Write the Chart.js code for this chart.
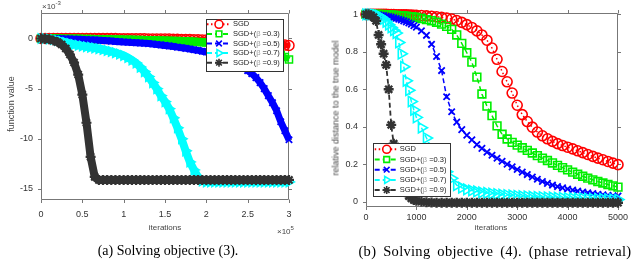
<!DOCTYPE html>
<html>
<head>
<meta charset="utf-8">
<script src="https://cdn.jsdelivr.net/npm/chart.js@4.4.1/dist/chart.umd.min.js"></script>
<style>
  body { margin: 0; background: #fff; }
  #page { position: relative; width: 640px; height: 262px; background: #fff; overflow: hidden; font-family: 'Liberation Sans', Arial, sans-serif; }
  .panel { position: absolute; top: 0; width: 320px; height: 232px; }
  .lbl { position: absolute; font-size: 8px; color: #444; white-space: nowrap; line-height: 1; }
  .mid { transform: translate(-50%, -50%); }
  .ylab { transform: translate(-50%, -50%) rotate(-90deg); font-size: 9px; }
  .lbl sup { font-size: 6px; vertical-align: 4px; }
  .cap { position: absolute; transform: translateX(-50%); font-family: 'Liberation Serif', 'Times New Roman', serif; font-size: 14px; color: #000; white-space: nowrap; }
</style>
</head>
<body>
<div id="page">
  <div class="panel" style="left:0"><canvas id="chartA"></canvas></div>
  <div class="panel" style="left:320px"><canvas id="chartB"></canvas></div>

  <div class="lbl" style="left:42px;top:0px">×10<sup>-3</sup></div>
  <div class="lbl ylab" style="left:11px;top:104px">function value</div>
  <div class="lbl mid" style="left:165px;top:228px">iterations</div>
  <div class="lbl" style="left:277px;top:225px">×10<sup>5</sup></div>

  <div class="lbl ylab" style="left:336px;top:108px">relative distance to the true model</div>
  <div class="lbl mid" style="left:491px;top:228px">iterations</div>

  <div class="cap" style="left:168px;top:243px">(a) Solving objective (3).</div>
  <div class="cap" style="left:495px;top:243px;font-size:14.5px;letter-spacing:0.3px;word-spacing:3px">(b) Solving objective (4). (phase retrieval)</div>
</div>

<script>
// ---- left panel: function value (x in 1e5 iterations, y in 1e-3)
const itersA = [0, 0.05, 0.1, 0.15, 0.2, 0.25, 0.3, 0.35, 0.4, 0.45, 0.5, 0.55, 0.6, 0.65, 0.7, 0.75, 0.8, 0.85, 0.9, 0.95,
    1, 1.05, 1.1, 1.15, 1.2, 1.25, 1.3, 1.35, 1.4, 1.45, 1.5, 1.55, 1.6, 1.65, 1.7, 1.75, 1.8, 1.85, 1.9, 1.95,
    2, 2.05, 2.1, 2.15, 2.2, 2.25, 2.3, 2.35, 2.4, 2.45, 2.5, 2.55, 2.6, 2.65, 2.7, 2.75, 2.8, 2.85, 2.9, 2.95, 3];
const sgdA = [0, 0, 0, 0, 0, 0, 0, 0, 0, 0, 0,
    0, 0, 0, 0, -0.01, -0.01, -0.01, -0.01, -0.02, -0.02,
    -0.02, -0.02, -0.03, -0.03, -0.03, -0.04, -0.04, -0.05, -0.05, -0.06,
    -0.06, -0.07, -0.08, -0.09, -0.1, -0.11, -0.12, -0.13, -0.14, -0.15,
    -0.17, -0.18, -0.2, -0.22, -0.24, -0.26, -0.28, -0.31, -0.34, -0.37,
    -0.4, -0.43, -0.46, -0.49, -0.52, -0.55, -0.58, -0.62, -0.66, -0.7];
const plus3A = [0, 0, 0, -0.01, -0.01, -0.02, -0.02, -0.03, -0.03, -0.04, -0.05,
    -0.05, -0.06, -0.07, -0.07, -0.08, -0.09, -0.1, -0.1, -0.11, -0.12,
    -0.13, -0.14, -0.15, -0.16, -0.17, -0.18, -0.19, -0.2, -0.21, -0.22,
    -0.23, -0.25, -0.26, -0.28, -0.29, -0.31, -0.33, -0.35, -0.37, -0.39,
    -0.42, -0.45, -0.48, -0.52, -0.56, -0.6, -0.65, -0.7, -0.76, -0.82,
    -0.89, -0.97, -1.06, -1.16, -1.27, -1.39, -1.52, -1.66, -1.85, -2.1];
const plus5A = [0, 0, -0.01, -0.01, -0.02, -0.03, -0.04, -0.05, -0.07, -0.08, -0.1,
    -0.12, -0.14, -0.16, -0.18, -0.2, -0.23, -0.26, -0.29, -0.32, -0.35,
    -0.37, -0.4, -0.42, -0.45, -0.48, -0.51, -0.55, -0.6, -0.64, -0.69,
    -0.74, -0.8, -0.86, -0.92, -0.98, -1.05, -1.12, -1.19, -1.27, -1.35,
    -1.45, -1.55, -1.65, -1.75, -1.9, -2.05, -2.25, -2.5, -2.8, -3.2,
    -3.5, -3.9, -4.4, -5.0, -5.7, -6.4, -7.2, -8.3, -9.2, -10.1];
const plus7A = [0, 0, -0.05, -0.1, -0.2, -0.3, -0.4, -0.5, -0.6, -0.68, -0.75,
    -0.82, -0.88, -0.95, -1.02, -1.1, -1.2, -1.3, -1.42, -1.55, -1.7,
    -1.9, -2.15, -2.45, -2.85, -3.3, -3.8, -4.4, -5.0, -5.7, -6.3,
    -7.0, -7.9, -8.9, -10.0, -11.2, -12.3, -13.1, -13.8, -14.2, -14.3,
    -14.3, -14.3, -14.3, -14.3, -14.3, -14.3, -14.3, -14.3, -14.3, -14.3,
    -14.3, -14.3, -14.3, -14.3, -14.3, -14.3, -14.3, -14.3, -14.3, -14.3];
const plus9A = [0, -0.02, -0.08, -0.2, -0.35, -0.6, -1.0, -1.6, -2.4, -3.6, -5.6,
    -8.4, -11.8, -13.8, -14.1, -14.1, -14.1, -14.1, -14.1, -14.1, -14.1,
    -14.1, -14.1, -14.1, -14.1, -14.1, -14.1, -14.1, -14.1, -14.1, -14.1,
    -14.1, -14.1, -14.1, -14.1, -14.1, -14.1, -14.1, -14.1, -14.1, -14.1,
    -14.1, -14.1, -14.1, -14.1, -14.1, -14.1, -14.1, -14.1, -14.1, -14.1,
    -14.1, -14.1, -14.1, -14.1, -14.1, -14.1, -14.1, -14.1, -14.1, -14.1];
const xTicksA = [0, 0.5, 1, 1.5, 2, 2.5, 3];
const yTicksA = [-15, -10, -5, 0];

// ---- right panel: relative distance to the true model
const itersB = [0, 50, 100, 150, 200, 250, 300, 350, 400, 450, 500, 550, 600, 650, 700, 750, 800, 850, 900, 950, 1000,
    1100, 1200, 1300, 1400, 1500, 1600, 1700, 1800, 1900, 2000, 2100, 2200, 2300, 2400, 2500, 2600, 2700, 2800, 2900, 3000,
    3100, 3200, 3300, 3400, 3500, 3600, 3700, 3800, 3900, 4000, 4100, 4200, 4300, 4400, 4500, 4600, 4700, 4800, 4900, 5000];
const sgdB = [1, 1, 1, 1, 1, 1, 1, 1, 1, 0.999, 0.999, 0.999, 0.998, 0.998, 0.998, 0.997, 0.997, 0.996, 0.996, 0.995, 0.995,
    0.994, 0.992, 0.99, 0.987, 0.984, 0.98, 0.975, 0.967, 0.957, 0.945,
    0.93, 0.912, 0.89, 0.862, 0.82, 0.76, 0.695, 0.64, 0.58, 0.515,
    0.465, 0.428, 0.398, 0.372, 0.352, 0.336, 0.322, 0.31, 0.3, 0.291,
    0.282, 0.272, 0.262, 0.252, 0.242, 0.233, 0.224, 0.215, 0.206, 0.198];
const plus3B = [1, 1, 1, 1, 1, 0.999, 0.999, 0.998, 0.998, 0.997, 0.996, 0.995, 0.994, 0.993, 0.992, 0.991, 0.99, 0.988, 0.987, 0.985, 0.983,
    0.978, 0.972, 0.966, 0.958, 0.948, 0.936, 0.92, 0.89, 0.845, 0.795,
    0.745, 0.665, 0.575, 0.51, 0.46, 0.405, 0.36, 0.335, 0.317, 0.302,
    0.288, 0.274, 0.26, 0.246, 0.233, 0.22, 0.207, 0.194, 0.182, 0.17,
    0.158, 0.147, 0.136, 0.126, 0.117, 0.108, 0.1, 0.092, 0.085, 0.078];
const plus5B = [1, 1, 1, 0.999, 0.998, 0.997, 0.995, 0.993, 0.99, 0.988, 0.985, 0.982, 0.978, 0.974, 0.97, 0.965, 0.96, 0.954, 0.948, 0.94, 0.932,
    0.912, 0.888, 0.84, 0.775, 0.7, 0.56, 0.48, 0.425, 0.385, 0.355,
    0.33, 0.305, 0.285, 0.265, 0.248, 0.232, 0.216, 0.2, 0.186, 0.172,
    0.158, 0.145, 0.132, 0.12, 0.108, 0.098, 0.089, 0.081, 0.074, 0.068,
    0.062, 0.057, 0.052, 0.048, 0.044, 0.04, 0.037, 0.034, 0.032, 0.03];
const plus7B = [1, 1, 1, 0.999, 0.997, 0.993, 0.985, 0.975, 0.96, 0.945, 0.93, 0.915, 0.9, 0.85, 0.79, 0.72, 0.645, 0.595, 0.535, 0.49, 0.45,
    0.395, 0.34, 0.285, 0.24, 0.198, 0.16, 0.125, 0.088, 0.075, 0.066,
    0.06, 0.055, 0.05, 0.047, 0.044, 0.041, 0.038, 0.036, 0.034, 0.032,
    0.03, 0.029, 0.027, 0.026, 0.025, 0.024, 0.023, 0.022, 0.021, 0.02,
    0.019, 0.018, 0.018, 0.017, 0.016, 0.015, 0.015, 0.014, 0.013, 0.012];
const plus9B = [1, 1, 0.995, 0.985, 0.965, 0.89, 0.84, 0.79, 0.73, 0.6, 0.41, 0.31, 0.23, 0.17, 0.12, 0.08, 0.05, 0.03, 0.018, 0.01, 0.005,
    0.001, -0.002, -0.004, -0.005, -0.005, -0.005, -0.005, -0.005, -0.005, -0.005,
    -0.005, -0.005, -0.005, -0.005, -0.005, -0.005, -0.005, -0.005, -0.005, -0.005,
    -0.005, -0.005, -0.005, -0.005, -0.005, -0.005, -0.005, -0.005, -0.005, -0.005,
    -0.005, -0.005, -0.005, -0.005, -0.005, -0.005, -0.005, -0.005, -0.005, -0.005];
const xTicksB = [0, 1000, 2000, 3000, 4000, 5000];
const yTicksB = [0, 0.2, 0.4, 0.6, 0.8, 1];

const seriesNames = ['SGD', 'SGD+(β =0.3)', 'SGD+(β =0.5)', 'SGD+(β =0.7)', 'SGD+(β =0.9)'];

// marker / line look per series (matlab-ish)
const styles = [
    { color: '#ff0000', point: 'circle', rot: 0, dash: [1.5, 2.5] },
    { color: '#00ee00', point: 'rect', rot: 0, dash: [5, 3] },
    { color: '#0000ff', point: 'crossRot', rot: 0, dash: [5, 3] },
    { color: '#00ffff', point: 'triangle', rot: 90, dash: [5, 3] },
    { color: '#333333', point: 'star', rot: 0, dash: [5, 3] }
];

Chart.defaults.font.family = "'Liberation Sans', Arial, sans-serif";
Chart.defaults.font.size = 9;
Chart.defaults.color = '#333';

// axes box with outward ticks on all four sides, under the data
const boxPlugin = {
    id: 'matBox',
    beforeDatasetsDraw(chart) {
        const { ctx, chartArea: a, scales } = chart;
        const L = Math.round(a.left) + 0.5, R = Math.round(a.right) - 0.5;
        const T = Math.round(a.top) + 0.5, B = Math.round(a.bottom) - 0.5;
        ctx.save();
        ctx.lineWidth = 1;
        ctx.strokeStyle = '#777';
        ctx.beginPath();
        ctx.moveTo(L, T); ctx.lineTo(R, T); ctx.lineTo(R, B); ctx.lineTo(L, B); ctx.closePath();
        scales.x.ticks.forEach(t => {
            const px = Math.round(scales.x.getPixelForValue(t.value)) + 0.5;
            ctx.moveTo(px, B); ctx.lineTo(px, B + 3.5);
            ctx.moveTo(px, T); ctx.lineTo(px, T - 3.5);
        });
        scales.y.ticks.forEach(t => {
            const py = Math.round(scales.y.getPixelForValue(t.value)) + 0.5;
            ctx.moveTo(L, py); ctx.lineTo(L - 3.5, py);
            ctx.moveTo(R, py); ctx.lineTo(R + 3.5, py);
        });
        ctx.stroke();
        ctx.restore();
    }
};

// boxed legend like matlab: line - marker - line, then text
const legendPlugin = {
    id: 'boxLegend',
    afterDatasetsDraw(chart, args, o) {
        const ctx = chart.ctx;
        ctx.save();
        ctx.fillStyle = '#fff';
        ctx.fillRect(o.x, o.y, o.w, o.h);
        ctx.strokeStyle = '#333';
        ctx.lineWidth = 1;
        ctx.strokeRect(Math.round(o.x) + 0.5, Math.round(o.y) + 0.5, Math.round(o.w), Math.round(o.h));
        ctx.font = "7.5px 'Liberation Sans', Arial, sans-serif";
        ctx.textBaseline = 'middle';
        chart.data.datasets.forEach((ds, i) => {
            const cy = o.y + o.rowTop + i * o.rowGap;
            ctx.strokeStyle = ds.borderColor;
            ctx.lineWidth = 2;
            ctx.setLineDash(ds.legendDash);
            ctx.beginPath();
            ctx.moveTo(o.x + o.lineX0, cy);
            ctx.lineTo(o.x + o.lineX1, cy);
            ctx.stroke();
            ctx.setLineDash([]);
            ctx.fillStyle = '#fff';
            ctx.lineWidth = 1.6;
            Chart.helpers.drawPoint(ctx, {
                pointStyle: ds.pointStyle, rotation: ds.pointRotation, radius: o.markR, borderWidth: 1.6
            }, o.x + o.markX, cy);
            // text, beta a bit lighter
            let tx = o.x + o.textX;
            ds.label.split(/(β)/).forEach(part => {
                ctx.fillStyle = part === 'β' ? '#999' : '#222';
                ctx.fillText(part, tx, cy);
                tx += ctx.measureText(part).width;
            });
        });
        ctx.restore();
    }
};

function makeSets(xs, series, look) {
    return series.map((ys, i) => ({
        label: seriesNames[i],
        data: xs.map((x, k) => ({ x: x, y: ys[k] })),
        borderColor: styles[i].color,
        backgroundColor: 'rgba(0,0,0,0)',
        pointBorderColor: styles[i].color,
        pointBackgroundColor: 'rgba(0,0,0,0)',
        pointStyle: styles[i].point,
        pointRotation: styles[i].rot,
        pointRadius: look.radius[i],
        pointBorderWidth: look.pointWidth[i],
        borderWidth: look.lineWidth[i],
        borderDash: look.dashed ? styles[i].dash : [],
        legendDash: styles[i].dash,
        order: 5 - i,
        clip: false,
        tension: 0,
        fill: false
    }));
}

function makeChart(id, xs, series, c) {
    return new Chart(document.getElementById(id), {
        type: 'line',
        data: { datasets: makeSets(xs, series, c.look) },
        options: {
            responsive: true,
            maintainAspectRatio: false,
            animation: false,
            events: [],
            layout: { padding: c.pad },
            plugins: {
                legend: { display: false },
                tooltip: { enabled: false },
                boxLegend: c.legend
            },
            scales: {
                x: {
                    type: 'linear',
                    min: c.xMin, max: c.xMax,
                    afterFit: s => { s.height = c.xh; },
                    afterBuildTicks: s => { s.ticks = c.xTicks.map(v => ({ value: v })); },
                    grid: { display: false, drawTicks: false },
                    border: { display: false },
                    ticks: { padding: c.xPad, autoSkip: false, maxRotation: 0, callback: v => String(v) }
                },
                y: {
                    type: 'linear',
                    min: c.yMin, max: c.yMax,
                    afterFit: s => { s.width = c.yw; },
                    afterBuildTicks: s => { s.ticks = c.yTicks.map(v => ({ value: v })); },
                    grid: { display: false, drawTicks: false },
                    border: { display: false },
                    ticks: { padding: c.yPad, autoSkip: false, callback: v => String(v) }
                }
            }
        },
        plugins: [boxPlugin, legendPlugin]
    });
}

makeChart('chartA', itersA, [sgdA, plus3A, plus5A, plus7A, plus9A], {
    xMin: 0, xMax: 3, yMin: -16.1, yMax: 2.5,
    xTicks: xTicksA, yTicks: yTicksA,
    pad: { left: 0, right: 31, top: 7, bottom: 0 },
    yw: 41, xh: 32, xPad: 9, yPad: 8,
    look: {
        radius: [5, 5, 4.5, 5.5, 5],
        pointWidth: [1.5, 1.5, 1.8, 1.5, 2.2],
        lineWidth: [6, 6, 7, 8, 8],
        dashed: false
    },
    legend: { x: 206, y: 19, w: 77, h: 52, rowTop: 5.3, rowGap: 9.6, lineX0: 1, lineX1: 24, markX: 13, textX: 27, markR: 4 }
});

makeChart('chartB', itersB, [sgdB, plus3B, plus5B, plus7B, plus9B], {
    xMin: 0, xMax: 5000, yMin: -0.028, yMax: 1.005,
    xTicks: xTicksB, yTicks: yTicksB,
    pad: { left: 0, right: 22, top: 11, bottom: 0 },
    yw: 46, xh: 25, xPad: 5, yPad: 8,
    look: {
        radius: [5, 5.5, 4.5, 6, 5],
        pointWidth: [1.6, 1.6, 1.8, 1.6, 2.4],
        lineWidth: [1.5, 1.5, 1.5, 1.5, 1.8],
        dashed: true
    },
    legend: { x: 52.7, y: 143.3, w: 77.3, h: 53.4, rowTop: 6, rowGap: 10.2, lineX0: 2, lineX1: 24, markX: 14, textX: 27, markR: 4 }
});
</script>
</body>
</html>
